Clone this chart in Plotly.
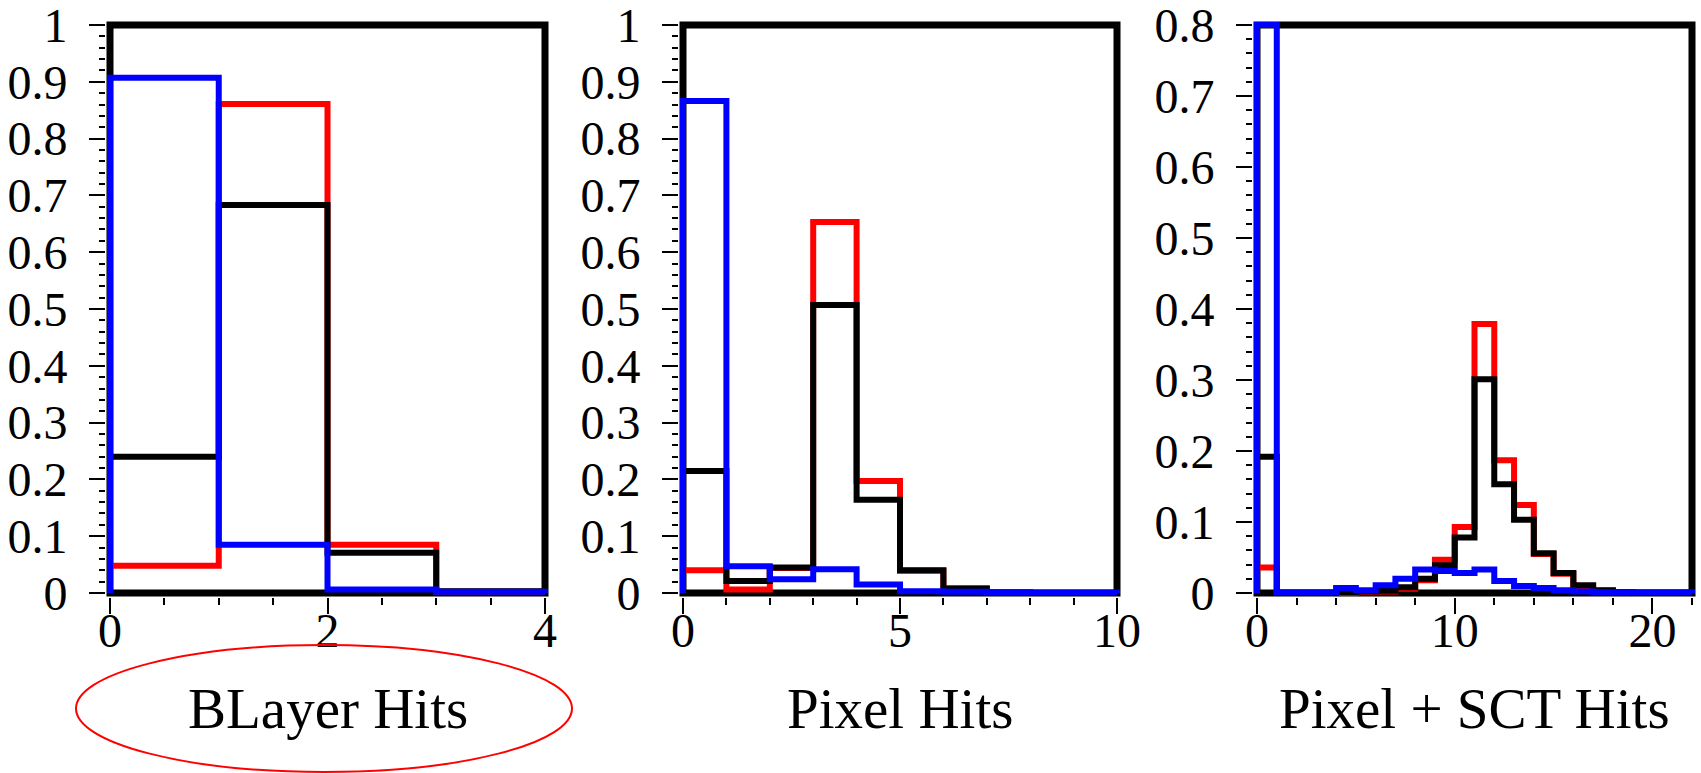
import plotly.graph_objects as go

# ---- histogram contents (unit-width bins starting at 0) ----
blayer_red = [0.048, 0.861, 0.085, 0.002]
blayer_black = [0.240, 0.683, 0.071, 0.003]
blayer_blue = [0.907, 0.085, 0.006, 0.002]

pixel_red = [0.040, 0.006, 0.044, 0.653, 0.197, 0.039, 0.008, 0.001, 0.0, 0.0]
pixel_black = [0.215, 0.021, 0.045, 0.507, 0.164, 0.040, 0.008, 0.001, 0.0, 0.0]
pixel_blue = [0.866, 0.047, 0.024, 0.042, 0.015, 0.003, 0.002, 0.001, 0.001, 0.001]

sct_red = [0.036, 0.0, 0.0, 0.0, 0.0, 0.001, 0.002, 0.006, 0.018, 0.047, 0.093,
           0.379, 0.187, 0.124, 0.055, 0.027, 0.010, 0.003, 0.001, 0.0, 0.0, 0.0]
sct_black = [0.192, 0.0, 0.0, 0.0, 0.001, 0.002, 0.003, 0.008, 0.020, 0.039, 0.078,
             0.301, 0.153, 0.103, 0.056, 0.028, 0.011, 0.004, 0.001, 0.0, 0.0, 0.0]
sct_blue = [0.800, 0.001, 0.001, 0.001, 0.007, 0.004, 0.011, 0.020, 0.033, 0.031, 0.028,
            0.033, 0.017, 0.010, 0.007, 0.004, 0.002, 0.001, 0.001, 0.001, 0.001, 0.001]

titles = ["BLayer Hits", "Pixel Hits", "Pixel + SCT Hits"]
x_max = [4, 10, 22]
y_max = [1.0, 1.0, 0.8]
x_major = [2, 5, 10]
x_minor = [0.5, 1, 2]

# ---- page geometry (pixels) ----
W, H = 1701, 773
FRAME_X = [(110, 545), (683, 1117), (1257, 1692)]
FRAME_TOP, FRAME_BOT = 25, 593
PAD = 4  # plot area reaches a little past the frame so edge lines are not clipped

SERIF = "Liberation Serif, Times New Roman, serif"
RED, BLACK, BLUE = "#ff0000", "#000000", "#0000ff"


def step_outline(values):
    """Outline of a histogram with unit bins: rises from 0, steps, drops to 0."""
    edges = list(range(len(values) + 1))
    xs = [edges[0]] + edges + [edges[-1]]
    ys = [0] + list(values) + [values[-1], 0]
    return xs, ys


fig = go.Figure()
panels = [
    (blayer_red, blayer_black, blayer_blue),
    (pixel_red, pixel_black, pixel_blue),
    (sct_red, sct_black, sct_blue),
]

for i, (red, black, blue) in enumerate(panels):
    sfx = "" if i == 0 else str(i + 1)
    for vals, col in ((red, RED), (black, BLACK), (blue, BLUE)):
        xs, ys = step_outline(vals)
        fig.add_trace(go.Scatter(
            x=xs, y=ys, mode="lines", line_shape="hv",
            line=dict(color=col, width=6), hoverinfo="skip",
            xaxis="x" + sfx, yaxis="y" + sfx, showlegend=False,
        ))

    x0, x1 = FRAME_X[i]
    xppu = (x1 - x0) / x_max[i]
    yppu = (FRAME_BOT - FRAME_TOP) / y_max[i]
    xr = [-PAD / xppu, x_max[i] + PAD / xppu]
    yr = [-PAD / yppu, y_max[i] + PAD / yppu]
    xdom = [(x0 - PAD) / W, (x1 + PAD) / W]
    ydom = [1 - (FRAME_BOT + PAD) / H, 1 - (FRAME_TOP - PAD) / H]

    tickfont = dict(family=SERIF, size=48, color="black")
    fig.layout["xaxis" + sfx] = dict(
        domain=xdom, range=xr, anchor="y" + sfx, showgrid=False, zeroline=False,
        showline=False, automargin=False, ticklabeloverflow="allow",
        ticklabelstandoff=-25,
        ticks="outside", ticklen=16, tickwidth=2, tickcolor="black",
        tick0=0, dtick=x_major[i], tickfont=tickfont, fixedrange=True,
        minor=dict(dtick=x_minor[i], tick0=0, ticks="outside", ticklen=7,
                   tickwidth=2, tickcolor="black", showgrid=False),
    )
    fig.layout["yaxis" + sfx] = dict(
        domain=ydom, range=yr, anchor="x" + sfx, showgrid=False, zeroline=False,
        showline=False, automargin=False, ticklabeloverflow="allow",
        ticklabelstandoff=12,
        ticks="outside", ticklen=16, tickwidth=2, tickcolor="black",
        tick0=0, dtick=0.1, tickfont=tickfont, fixedrange=True,
        minor=dict(dtick=0.02, tick0=0, ticks="outside", ticklen=6,
                   tickwidth=2, tickcolor="black", showgrid=False),
    )

    # black frame around the histogram area
    fig.add_shape(type="rect", xref="x" + sfx, yref="y" + sfx,
                  x0=0, x1=x_max[i], y0=0, y1=y_max[i],
                  line=dict(color="black", width=7), layer="below")

    fig.add_annotation(
        x=(x0 + x1) / 2 / W, y=1 - 708 / H, xref="paper", yref="paper",
        text=titles[i], showarrow=False, xanchor="center", yanchor="middle",
        font=dict(family=SERIF, size=57, color="black"),
    )

# red ellipse around the first axis title
fig.add_shape(type="circle", xref="paper", yref="paper",
              x0=76 / W, x1=572 / W, y0=1 - 772 / H, y1=1 - 645 / H,
              line=dict(color=RED, width=2), layer="above")

fig.update_layout(
    width=W, height=H, margin=dict(l=0, r=0, t=0, b=0),
    paper_bgcolor="white", plot_bgcolor="white",
)

fig.write_html("out.html")
